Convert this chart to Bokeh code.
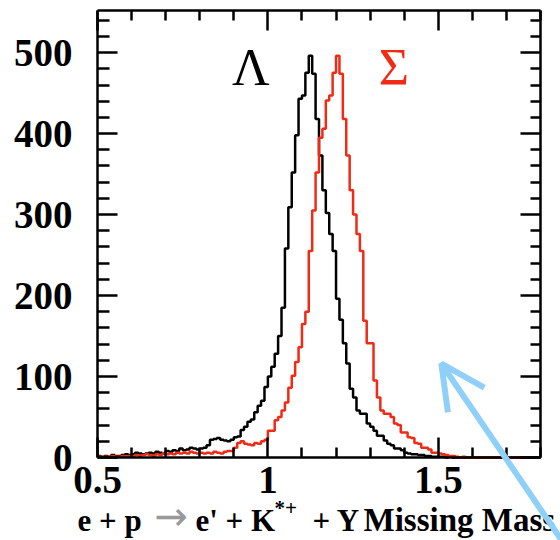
from bokeh.plotting import figure
from bokeh.models import (Range1d, LinearAxis, FixedTicker, Label, Arrow, OpenHead,
                          ColumnDataSource)
from bokeh.embed import file_html
from bokeh.resources import INLINE

# ---------------- data ----------------
bin_start = 0.50
bin_width = 0.01

lambda_counts = [
    2, 1, 2, 1, 3, 2, 2, 3, 4, 3,
    4, 6, 5, 4, 5, 6, 5, 7, 6, 5,
    8, 7, 9, 8, 11, 9, 10, 12, 11, 10,
    11, 12, 15, 22, 23, 24, 22, 21, 20, 22,
    25, 26, 34, 38, 44, 47, 56, 64, 70, 87,
    100, 112, 128, 150, 185, 258, 309, 352, 398, 443,
    447, 475, 496, 474, 418, 373, 330, 302, 276, 255,
    196, 170, 141, 116, 85, 74, 58, 54, 54, 42,
    38, 33, 27, 27, 21, 17, 15, 11, 11, 9,
    6, 5, 4, 4, 3, 3, 2, 2, 1, 1,
    1, 1, 0, 1, 0, 0, 0, 0, 0, 0,
    0, 0, 0, 0, 0, 0, 0, 0, 0, 0,
    0, 0, 0, 0, 0, 0, 0, 0, 0, 0,
]

sigma_counts = [
    1, 0, 1, 1, 2, 1, 1, 2, 1, 2,
    2, 3, 2, 3, 4, 3, 2, 4, 3, 5,
    4, 5, 4, 6, 5, 6, 5, 7, 6, 5,
    6, 5, 6, 5, 7, 6, 5, 7, 8, 8,
    12, 18, 20, 17, 16, 15, 18, 17, 20, 22,
    33, 33, 46, 50, 58, 68, 86, 101, 118, 136,
    165, 180, 255, 305, 352, 395, 406, 441, 447, 475,
    496, 474, 418, 373, 330, 300, 276, 255, 169, 141,
    141, 95, 74, 58, 54, 54, 50, 42, 40, 31,
    31, 25, 24, 18, 17, 12, 12, 10, 6, 6,
    5, 4, 3, 2, 2, 1, 0, 1, 0, 0,
    0, 0, 0, 0, 0, 0, 0, 0, 0, 0,
    0, 0, 0, 0, 0, 0, 0, 0, 0, 0,
]

x_major_ticks = [0.5, 1.0, 1.5]
x_minor_ticks = [0.6, 0.7, 0.8, 0.9, 1.1, 1.2, 1.3, 1.4, 1.6, 1.7, 1.8]
x_tick_labels = {0.5: "0.5", 1.0: "1", 1.5: "1.5"}
y_major_ticks = [0, 100, 200, 300, 400, 500]
y_minor_ticks = [v for v in range(20, 560, 20) if v % 100 != 0]

series_names = ["Λ", "Σ"]
series_colors = ["#000000", "#f02a14"]

# axis box (data units)
x_lo, x_hi = 0.5, 1.8
y_lo, y_hi = 0, 552

# layout geometry (pixels)
W, H = 560, 540
box_left, box_right, box_top, box_bottom = 97, 540, 10, 457
px_per_x = (box_right - box_left) / (x_hi - x_lo)
px_per_y = (box_bottom - box_top) / (y_hi - y_lo)

# annotation positions (data units)
lambda_label_pos = (0.95, 482)
sigma_label_pos = (1.37, 482)
arrow_tail = (1.865, -104)
arrow_tip = (1.509, 116)

# ---------------- figure ----------------
x_range = Range1d(x_lo - box_left / px_per_x, x_hi + (W - box_right) / px_per_x)
y_range = Range1d(y_lo - (H - box_bottom) / px_per_y, y_hi + box_top / px_per_y)

p = figure(width=W, height=H, x_range=x_range, y_range=y_range,
           output_backend="svg", toolbar_location=None, title=None,
           x_axis_location=None, y_axis_location=None,
           min_border=0, min_border_left=0, min_border_right=0,
           min_border_top=0, min_border_bottom=0,
           background_fill_color="white", border_fill_color="white",
           outline_line_color=None)
p.grid.visible = False

def make_axis(ticks, minor, loc, bounds, show_labels, standoff, minor_len=11):
    ax = LinearAxis(fixed_location=loc, bounds=bounds)
    ax.ticker = FixedTicker(ticks=ticks, minor_ticks=minor)
    ax.axis_line_color = "black"
    ax.axis_line_width = 2.5
    ax.major_tick_line_color = "black"
    ax.major_tick_line_width = 2.5
    ax.minor_tick_line_color = "black"
    ax.minor_tick_line_width = 2.5
    ax.major_tick_in = 20
    ax.major_tick_out = 0
    ax.minor_tick_in = minor_len
    ax.minor_tick_out = 0
    if show_labels:
        ax.major_label_text_font = "Liberation Serif"
        ax.major_label_text_font_style = "bold"
        ax.major_label_text_font_size = "39px"
        ax.major_label_text_color = "black"
        ax.major_label_standoff = standoff
    else:
        ax.major_label_text_font_size = "0px"
        ax.major_label_text_alpha = 0
        ax.major_label_standoff = 0
    return ax

bottom_axis = make_axis(x_major_ticks, x_minor_ticks, y_lo, (x_lo, x_hi), True, 9, 10)
bottom_axis.major_label_overrides = x_tick_labels
left_axis = make_axis(y_major_ticks, y_minor_ticks, x_lo, (y_lo, y_hi), True, 25, 12)
top_axis = make_axis(x_major_ticks, x_minor_ticks, y_hi, (x_lo, x_hi), False, 0, 10)
right_axis = make_axis(y_major_ticks, y_minor_ticks, x_hi, (y_lo, y_hi), False, 0, 10)
p.add_layout(bottom_axis, "below")
p.add_layout(left_axis, "left")
p.add_layout(top_axis, "above")
p.add_layout(right_axis, "right")

# ---------------- histograms ----------------
for counts, color in zip([lambda_counts, sigma_counts], series_colors):
    edges = [bin_start + bin_width * i for i in range(len(counts) + 1)]
    vals = list(counts) + [counts[-1]]
    src = ColumnDataSource(dict(x=edges, y=vals))
    p.step(x="x", y="y", source=src, mode="after", line_color=color, line_width=2.5)

# ---------------- annotations ----------------
for name, color, pos in zip(series_names, series_colors, [lambda_label_pos, sigma_label_pos]):
    p.add_layout(Label(x=pos[0], y=pos[1], text=name, text_color=color,
                       text_font="Liberation Serif", text_font_size="52px",
                       text_align="center", text_baseline="alphabetic"))

# x-axis title, pieced together (screen px from the canvas bottom-left)
title_pieces = [
    ("e + p", 77, 20, "31px", "black", "bold", "Liberation Serif"),
    ("\u2192", 154, 25, "40px", "#999999", "normal", "DejaVu Sans"),
    ("e' + K", 195, 20, "31px", "black", "bold", "Liberation Serif"),
    ("*+", 274, 33, "21px", "black", "bold", "Liberation Serif"),
    ("+ Y", 312, 20, "31px", "black", "bold", "Liberation Serif"),
    ("Missing Mass", 363, 21, "33px", "black", "bold", "Liberation Serif"),
]
for txt, sx, sy, fs, col, style, font in title_pieces:
    p.add_layout(Label(x=sx, y=sy, x_units="screen", y_units="screen", text=txt,
                       text_color=col, text_font=font,
                       text_font_style=style, text_font_size=fs,
                       text_baseline="alphabetic"))

p.add_layout(Arrow(x_start=arrow_tail[0], y_start=arrow_tail[1],
                   x_end=arrow_tip[0], y_end=arrow_tip[1],
                   line_color="#8fd0f8", line_width=6,
                   end=OpenHead(size=44, line_color="#8fd0f8", line_width=6)))

open("out.html", "w").write(file_html(p, INLINE))
